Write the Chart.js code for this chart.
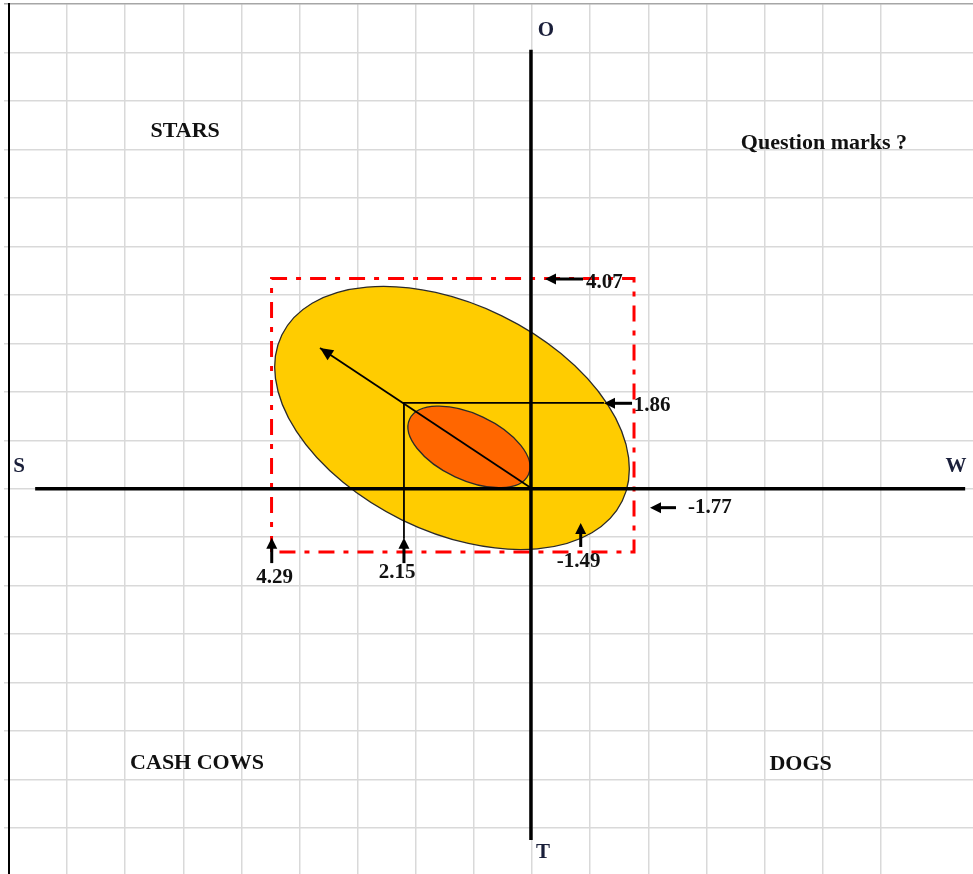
<!DOCTYPE html>
<html>
<head>
<meta charset="utf-8">
<title>Strategy matrix</title>
<script src="https://cdn.jsdelivr.net/npm/chart.js@4.4.0/dist/chart.umd.min.js"></script>
<style>
  html, body { margin: 0; padding: 0; background: #fff; }
  #matrix { display: block; }
</style>
</head>
<body>
<canvas id="matrix" width="973" height="874"></canvas>
<script>
// all positions in grid cells: x counted from the O-T axis, y from the S-W axis
const xRange = [-9, 7.585];
const yRange = [-7.95, 10];

const axisLetters = ['S', 'W', 'O', 'T'];
const axisLetterX = [-8.826, 7.292, 0.239, 0.187];
const axisLetterY = [0.45, 0.45, 9.447, -7.514];

const quadrantNames = ['STARS', 'Question marks ?', 'CASH COWS', 'DOGS'];
const quadrantX = [-5.97, 5.02, -5.765, 4.619];
const quadrantY = [7.38, 7.12, -5.67, -5.69];

const swAxis = [[-8.55, 0], [7.45, 0]];
const otAxis = [[-0.02, 9.06], [-0.02, -7.25]];

// dash-dot frame round the outer ellipse
const frameX = [-4.483, 1.753];
const frameY = [-1.304, 4.34];

// ellipses: centre and two half-axis vectors
const ellipseCenter = [[-1.378, 1.461], [-1.086, 0.863]];
const ellipseMajor = [[2.928, -1.713], [1.022, -0.572]];
const ellipseMinor = [[-0.857, -2.107], [-0.239, -0.617]];

const guideLine = [[-2.205, -1.032], [-2.205, 1.771], [1.236, 1.771]];
const vectorLine = [[0, 0], [-3.649, 2.905]];

const markerLabels = ['4.29', '2.15', '-1.49', '-1.77', '4.07', '1.86'];
const markerTail = [[-4.48, -1.534], [-2.205, -1.534], [0.836, -1.201], [2.475, -0.39], [0.876, 4.329], [1.719, 1.764]];
const markerTip = [[-4.48, -1.011], [-2.205, -1.011], [0.836, -0.706], [2.028, -0.39], [0.222, 4.329], [1.237, 1.764]];
const markerLabelPos = [[-4.431, -1.83], [-2.324, -1.73], [0.798, -1.5], [3.06, -0.386], [1.245, 4.25], [2.063, 1.72]];

const toPoints = arr => arr.map(p => ({ x: p[0], y: p[1] }));

const framePoints = [
    [frameX[0], frameY[0]], [frameX[0], frameY[1]],
    [frameX[1], frameY[1]], [frameX[1], frameY[0]], [frameX[0], frameY[0]]
];

function lineSet(points, color, width, dash) {
    return {
        data: toPoints(points),
        showLine: true,
        borderColor: color,
        borderWidth: width,
        borderDash: dash || [],
        pointRadius: 0,
        fill: false,
        tension: 0
    };
}

function px(chart, p) {
    return [chart.scales.x.getPixelForValue(p[0]), chart.scales.y.getPixelForValue(p[1])];
}

function arrow(ctx, tail, tip, width, headLen, headHalf) {
    const dx = tip[0] - tail[0], dy = tip[1] - tail[1];
    const len = Math.hypot(dx, dy);
    const ux = dx / len, uy = dy / len;
    const bx = tip[0] - ux * headLen, by = tip[1] - uy * headLen;
    if (width > 0) {
        ctx.lineWidth = width;
        ctx.beginPath();
        ctx.moveTo(tail[0], tail[1]);
        ctx.lineTo(bx + ux, by + uy);
        ctx.stroke();
    }
    ctx.beginPath();
    ctx.moveTo(tip[0], tip[1]);
    ctx.lineTo(bx - uy * headHalf, by + ux * headHalf);
    ctx.lineTo(bx + uy * headHalf, by - ux * headHalf);
    ctx.closePath();
    ctx.fill();
}

const ellipseFill = ['#ffcc00', '#ff6600'];

const ellipsePlugin = {
    id: 'ellipses',
    beforeDatasetsDraw(chart) {
        const ctx = chart.ctx;
        ellipseCenter.forEach((c, i) => {
            const pc = px(chart, c);
            const pu = px(chart, [c[0] + ellipseMajor[i][0], c[1] + ellipseMajor[i][1]]);
            const pv = px(chart, [c[0] + ellipseMinor[i][0], c[1] + ellipseMinor[i][1]]);
            ctx.save();
            ctx.beginPath();
            ctx.transform(pu[0] - pc[0], pu[1] - pc[1], pv[0] - pc[0], pv[1] - pc[1], pc[0], pc[1]);
            ctx.arc(0, 0, 1, 0, Math.PI * 2);
            ctx.restore();
            ctx.save();
            ctx.fillStyle = ellipseFill[i];
            ctx.fill();
            ctx.lineWidth = 1.3;
            ctx.strokeStyle = '#2a2a2a';
            ctx.stroke();
            ctx.restore();
        });
    }
};

const annotationPlugin = {
    id: 'annotations',
    afterDatasetsDraw(chart) {
        const ctx = chart.ctx;
        ctx.save();
        ctx.strokeStyle = '#000';
        ctx.fillStyle = '#000';
        ctx.lineCap = 'butt';

        // head of the direction vector
        arrow(ctx, px(chart, vectorLine[0]), px(chart, vectorLine[1]), 0, 13, 6);

        markerTip.forEach((tip, i) => {
            arrow(ctx, px(chart, markerTail[i]), px(chart, tip), 3, 11, 5.5);
        });

        ctx.fillStyle = '#111';
        ctx.textAlign = 'center';
        ctx.textBaseline = 'middle';

        ctx.font = 'bold 21px "Liberation Serif", "Times New Roman", serif';
        markerLabels.forEach((t, i) => {
            const p = px(chart, markerLabelPos[i]);
            ctx.fillText(t, p[0], p[1]);
        });

        ctx.font = 'bold 22px "Liberation Serif", "Times New Roman", serif';
        quadrantNames.forEach((t, i) => {
            const p = px(chart, [quadrantX[i], quadrantY[i]]);
            ctx.fillText(t, p[0], p[1]);
        });

        ctx.font = 'bold 21px "Liberation Serif", "Times New Roman", serif';
        ctx.fillStyle = '#1a1f3a';
        axisLetters.forEach((t, i) => {
            const p = px(chart, [axisLetterX[i], axisLetterY[i]]);
            ctx.fillText(t, p[0], p[1]);
        });
        ctx.restore();
    }
};

const onlyWholeTicks = scale => {
    scale.ticks = scale.ticks.filter(t => Math.abs(t.value - Math.round(t.value)) < 1e-6);
};

new Chart(document.getElementById('matrix'), {
    type: 'scatter',
    data: {
        datasets: [
            lineSet(vectorLine, '#000', 1.8),
            lineSet(guideLine, '#000', 1.8),
            lineSet(swAxis, '#000', 3.5),
            lineSet(otAxis, '#000', 3.5),
            lineSet(framePoints, '#ff0000', 3, [16, 9, 5, 9])
        ]
    },
    options: {
        responsive: false,
        animation: false,
        layout: { padding: { left: 4, top: 4.2, right: 0, bottom: 0 } },
        plugins: {
            legend: { display: false },
            tooltip: { enabled: false }
        },
        scales: {
            x: {
                type: 'linear',
                min: xRange[0],
                max: xRange[1],
                ticks: { display: false, stepSize: 1 },
                afterBuildTicks: onlyWholeTicks,
                grid: { color: '#d9d9d9', lineWidth: 1.5, drawTicks: false },
                border: { display: false }
            },
            y: {
                type: 'linear',
                min: yRange[0],
                max: yRange[1],
                ticks: { display: false, stepSize: 1 },
                afterBuildTicks: onlyWholeTicks,
                grid: {
                    color: c => (c.tick && c.tick.value === 10 ? '#a6a6a6' : '#d9d9d9'),
                    lineWidth: 1.5,
                    tickLength: 5
                },
                border: { color: '#000', width: 2 }
            }
        }
    },
    plugins: [ellipsePlugin, annotationPlugin]
});
</script>
</body>
</html>
